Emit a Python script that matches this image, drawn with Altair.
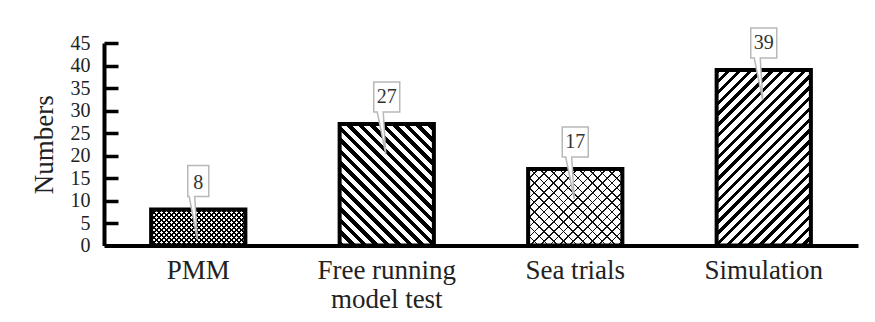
import altair as alt
import pandas as pd

# ---------------- data ----------------
categories = ["PMM", "Free running\nmodel test", "Sea trials", "Simulation"]
values = [8, 27, 17, 39]
y_ticks = [0, 5, 10, 15, 20, 25, 30, 35, 40, 45]

df = pd.DataFrame({
    "idx": list(range(len(categories))),
    "category": categories,
    "value": values,
    "digits": [str(len(str(v))) for v in values],
})

# ---------------- layout constants ----------------
W = 754
H = 202.5
YMAX = 45
PAD_INNER = 0.5
PAD_OUTER = 0.25
step = W / (len(categories) - PAD_INNER + 2 * PAD_OUTER)
BW = step * (1 - PAD_INNER)
FONT = "Liberation Serif"


def stripe_gradient(direction, w, h, period, frac, line_color, gap_color):
    """Hatch pattern built from a linear gradient with hard stops (45 deg in pixels)."""
    k = (w + h) / (w * w + h * h)
    a, b = w * k, h * k
    if direction == "/":
        x1, y1, x2, y2 = 0, 0, a, b
    else:
        x1, y1, x2, y2 = 0, 1, a, 1 - b
    n = (w + h) / period
    stops = []
    i = 0
    while i / n < 1:
        o1 = i / n
        o2 = min((i + frac) / n, 1)
        o3 = min((i + 1) / n, 1)
        stops += [
            alt.GradientStop(color=line_color, offset=round(o1, 5)),
            alt.GradientStop(color=line_color, offset=round(o2, 5)),
            alt.GradientStop(color=gap_color, offset=round(o2, 5)),
            alt.GradientStop(color=gap_color, offset=round(o3, 5)),
        ]
        i += 1
    return alt.LinearGradient(gradient="linear", stops=stops,
                              x1=round(x1, 5), y1=round(y1, 5),
                              x2=round(x2, 5), y2=round(y2, 5))


def bar_h(v):
    return v * H / YMAX


CLEAR = "rgba(0,0,0,0)"
# (layers of hatch for each bar): direction, period, fraction, line, gap
patterns = [
    [("\\", 5.0, 0.45, "black", "white"), ("/", 5.0, 0.45, "black", CLEAR)],
    [("\\", 11.5, 0.5, "black", "white")],
    [("\\", 9.7, 0.17, "#111", "white"), ("/", 9.7, 0.17, "#111", CLEAR)],
    [("/", 10.8, 0.42, "black", "white")],
]

xscale = alt.Scale(domain=categories, paddingInner=PAD_INNER, paddingOuter=PAD_OUTER)
yscale = alt.Scale(domain=[0, YMAX], nice=False, zero=True)


def X(axis=None):
    return alt.X("category:N", sort=categories, scale=xscale, axis=axis)


def Y(axis=None):
    return alt.Y("value:Q", scale=yscale, axis=axis)


base = alt.Chart(df)

fill_layers = []
for i, pats in enumerate(patterns):
    for (d, per, fr, lc, gc) in pats:
        grad = stripe_gradient(d, BW, bar_h(values[i]), per, fr, lc, gc)
        fill_layers.append(
            base.transform_filter(alt.datum.idx == i)
            .mark_bar(fill=grad, strokeWidth=0)
            .encode(x=X(), y=Y())
        )

x_axis = alt.Axis(
    orient="bottom",
    domainWidth=4, domainColor="black", ticks=False, grid=False,
    labelFont=FONT, labelFontSize=27, labelColor="#222", labelPadding=12,
    labelLineHeight=29, labelAngle=0, labelExpr="split(datum.value, '\\n')",
    title=None,
)
left_axis = alt.Axis(
    orient="left",
    values=y_ticks, domainWidth=4, domainColor="black", ticks=False, grid=False,
    labelFont=FONT, labelFontSize=20, labelColor="#222", labelPadding=14,
    labelOverlap=False, labelFlush=False, labelBaseline="middle",
    title="Numbers", titleFont=FONT, titleFontSize=27, titleFontWeight="normal",
    titleColor="#222", titlePadding=12,
)
right_axis = alt.Axis(
    orient="right", offset=-W, values=y_ticks[1:], labels=False, domain=False,
    ticks=True, tickSize=14, tickWidth=3.5, tickColor="black", grid=False, title=None,
)

outline = base.mark_bar(fillOpacity=0, stroke="black", strokeWidth=4,
                        strokeJoin="miter").encode(x=X(x_axis), y=Y(left_axis))

path2 = "M -0.26 -0.84 L 0.26 -0.84 L 0.26 -0.24 L -0.07 -0.24 L -0.02 0.6 L -0.19 -0.24 L -0.26 -0.24 Z"
path1 = "M -0.21 -0.88 L 0.21 -0.88 L 0.21 -0.26 L -0.07 -0.26 L -0.02 0.6 L -0.18 -0.26 L -0.21 -0.26 Z"

boxes = base.mark_point(filled=True, fill="white", stroke="#b8b8b8", strokeWidth=1.5,
                        opacity=1, size=10000).encode(
    x=X(), y=Y(),
    shape=alt.Shape("digits:N", scale=alt.Scale(domain=["1", "2"], range=[path1, path2]),
                    legend=None),
)

labels = base.mark_text(dy=-27, font=FONT, fontSize=20, color="#333",
                        baseline="middle", align="center").encode(
    x=X(), y=Y(right_axis), text="value:Q"
)

chart = (
    alt.layer(*fill_layers, outline, boxes, labels)
    .resolve_axis(x="independent", y="independent")
    .properties(
        width=W, height=H,
        padding={"left": 96, "top": 35, "right": 5, "bottom": 72},
        autosize=alt.AutoSizeParams(type="none"),
        background="white",
    )
    .configure_view(stroke=None)
)

chart.save("out.html", embed_options={"renderer": "svg", "actions": False})
